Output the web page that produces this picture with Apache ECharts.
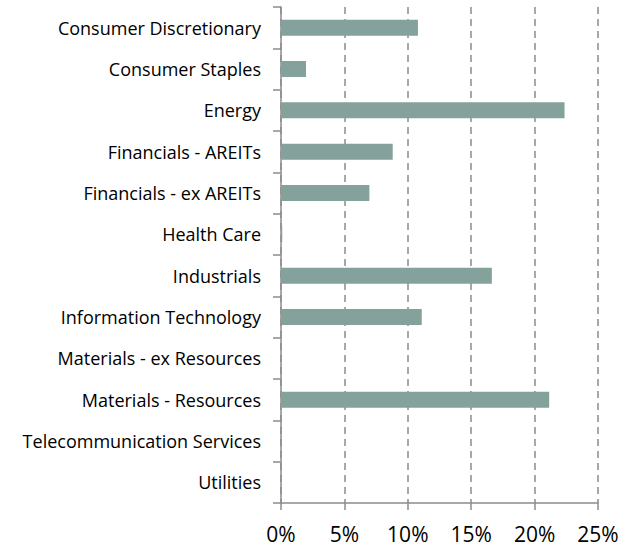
<!DOCTYPE html>
<html>
<head>
<meta charset="utf-8">
<script src="https://cdn.jsdelivr.net/npm/echarts@6/dist/echarts.min.js"></script>
<style>
  html, body { margin: 0; padding: 0; background: #fff; }
  #main { width: 635px; height: 549px; }
</style>
</head>
<body>
<div id="main"></div>
<script>
  // sectors, top to bottom
  var sectors = [
    'Consumer Discretionary',
    'Consumer Staples',
    'Energy',
    'Financials - AREITs',
    'Financials - ex AREITs',
    'Health Care',
    'Industrials',
    'Information Technology',
    'Materials - ex Resources',
    'Materials - Resources',
    'Telecommunication Services',
    'Utilities'
  ];
  // weights in percent
  var weights = [10.8, 1.97, 22.36, 8.81, 6.97, 0.1, 16.63, 11.1, 0, 21.15, 0, 0];
  var xTicks = [0, 5, 10, 15, 20, 25];

  var chart = echarts.init(document.getElementById('main'), null, { renderer: 'svg' });

  var option = {
    animation: false,
    grid: { left: 281, right: 37, top: 7, bottom: 46, containLabel: false },
    xAxis: {
      type: 'value',
      min: xTicks[0],
      max: xTicks[xTicks.length - 1],
      interval: 5,
      axisLine: { show: true, lineStyle: { color: '#8c8c8c', width: 1.5 } },
      axisTick: { show: true, length: 7, lineStyle: { color: '#8c8c8c', width: 1.5 } },
      axisLabel: {
        formatter: '{value}%',
        color: '#000',
        fontFamily: 'Open Sans',
        fontSize: 21,
        margin: 20
      },
      splitLine: {
        show: true,
        lineStyle: { color: '#8c8c8c', width: 1.5, type: [7, 5] }
      }
    },
    yAxis: {
      type: 'category',
      inverse: true,
      data: sectors,
      axisLine: { show: true, lineStyle: { color: '#8c8c8c', width: 1.5 } },
      axisTick: { show: true, length: 8, lineStyle: { color: '#8c8c8c', width: 1.5 } },
      axisLabel: {
        color: '#000',
        fontFamily: 'Open Sans',
        fontSize: 18,
        margin: 20
      }
    },
    series: [{
      type: 'bar',
      data: weights,
      barWidth: 16,
      itemStyle: { color: '#84a29b' }
    }]
  };

  chart.setOption(option);
</script>
</body>
</html>
